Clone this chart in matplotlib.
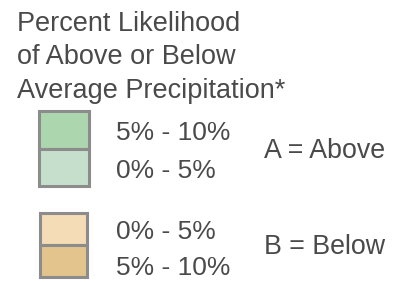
import matplotlib
matplotlib.use("Agg")
import matplotlib.pyplot as plt
from matplotlib.patches import Rectangle

title_lines = ["Percent Likelihood", "of Above or Below", "Average Precipitation*"]
above_labels = ["5% - 10%", "0% - 5%"]
above_colors = ["#acd6ad", "#c6dfcc"]
above_name = "A = Above"
below_labels = ["0% - 5%", "5% - 10%"]
below_colors = ["#f3dcb6", "#e3c48c"]
below_name = "B = Below"

W, H = 398, 282
fig = plt.figure(figsize=(W / 100, H / 100), dpi=100)
ax = fig.add_axes([0, 0, 1, 1])
ax.set_xlim(0, W)
ax.set_ylim(H, 0)
ax.axis("off")

font = ["Liberation Sans", "DejaVu Sans"]
tc = "#4a4a4a"

for i, (line, yb) in enumerate(zip(title_lines, [31, 64, 98])):
    ax.text(17, yb, line, fontsize=19.5, family=font, color=tc,
            va="baseline", ha="left")

def draw_group(y0, y1, x0, x1, labels, colors, name, label_ys, name_y):
    n = len(labels)
    h = (y1 - y0) / n
    for k in range(n):
        ax.add_patch(Rectangle((x0, y0 + k * h), x1 - x0, h,
                               facecolor=colors[k], edgecolor="#8c8c8c", lw=2.2))
        ax.text(116, label_ys[k], labels[k], fontsize=19, family=font,
                color=tc, va="baseline", ha="left")
    ax.text(264, name_y, name, fontsize=19.3, family=font, color=tc,
            va="baseline", ha="left")

draw_group(111, 186, 39, 89, above_labels, above_colors, above_name, [140, 178], 158)
draw_group(213, 277, 40, 87, below_labels, below_colors, below_name, [239, 275], 254)

fig.savefig("out.png", dpi=100)
